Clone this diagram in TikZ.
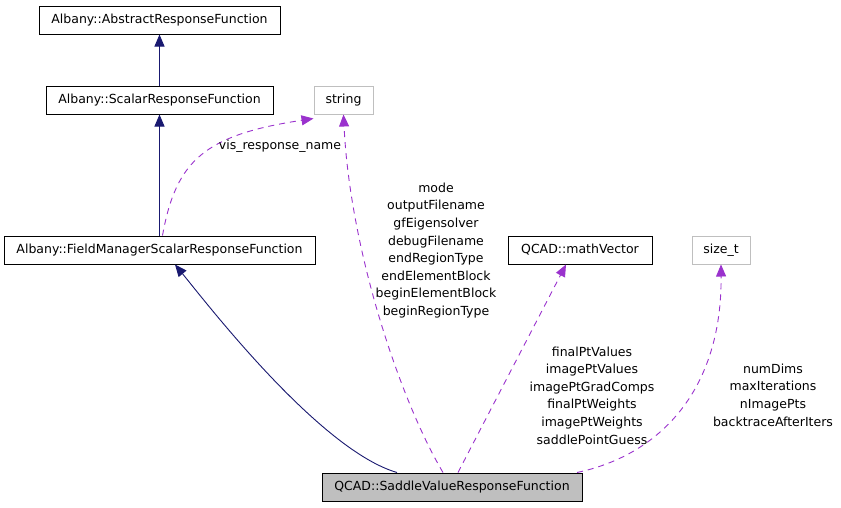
\documentclass[tikz,border=0pt]{standalone}
\usepackage{fontspec}
\setmainfont{DejaVu Sans}
\usetikzlibrary{arrows.meta}
\definecolor{navyline}{HTML}{191970}
\definecolor{purp}{HTML}{9A32CD}
\definecolor{grayedge}{HTML}{BFBFBF}
\begin{document}
\begin{tikzpicture}[x=1pt,y=-1pt,
  every node/.style={font=\fontsize{12.5}{17.6}\selectfont},
  cls/.style={draw=black,line width=1pt,rectangle,minimum height=28pt,inner sep=0pt},
  ext/.style={draw=grayedge,line width=1pt,rectangle,minimum height=28pt,inner sep=0pt},
  inh/.style={navyline,line width=0.9pt,-{Triangle[length=12pt,width=10pt]}},
  use/.style={purp,line width=0.9pt,dash pattern=on 6pt off 5pt,-{Triangle[length=12pt,width=10pt]}},
  lbl/.style={align=center,inner sep=0pt}]
\useasboundingbox (0,0) rectangle (841,507);
\node[cls,minimum width=241pt] (abs) at (159.5,20) {Albany::AbstractResponseFunction};
\node[cls,minimum width=227pt] (scal) at (159.5,100) {Albany::ScalarResponseFunction};
\node[ext,minimum width=59pt] (str) at (343.5,100) {string};
\node[cls,minimum width=311pt] (fm) at (159.5,250) {Albany::FieldManagerScalarResponseFunction};
\node[cls,minimum width=144pt] (mv) at (580,250) {QCAD::mathVector};
\node[ext,minimum width=58pt] (sz) at (721,250) {size\_t};
\node[cls,fill=grayedge,minimum width=260pt] (sad) at (452,487) {QCAD::SaddleValueResponseFunction};

\draw[inh] (scal) -- (abs);
\draw[inh] (fm) -- (scal);
\draw[inh] ([xshift=-55pt]sad.north) .. controls (320,450) and (208,305) .. ([xshift=15.5pt]fm.south);
\draw[use] ([xshift=3pt]fm.north) .. controls (176,160) and (205,135) .. ([yshift=-4pt]str.south west);
\draw[use] ([xshift=-9pt]sad.north) .. controls (400,400) and (350,250) .. (str.south);
\draw[use] ([xshift=6pt]sad.north) -- ([xshift=-14pt]mv.south);
\draw[use] ([xshift=125pt]sad.north) .. controls (660,455) and (722,390) .. (sz.south);

\node[lbl] (l1) at (280,146) {vis\_response\_name};
\node[lbl] (l2) at (436,250.5) {mode\\outputFilename\\gfEigensolver\\debugFilename\\endRegionType\\endElementBlock\\beginElementBlock\\beginRegionType};
\node[lbl] (l3) at (592,395.5) {finalPtValues\\imagePtValues\\imagePtGradComps\\finalPtWeights\\imagePtWeights\\saddlePointGuess};
\node[lbl] (l4) at (773,395) {numDims\\maxIterations\\nImagePts\\backtraceAfterIters};
\end{tikzpicture}
\end{document}
